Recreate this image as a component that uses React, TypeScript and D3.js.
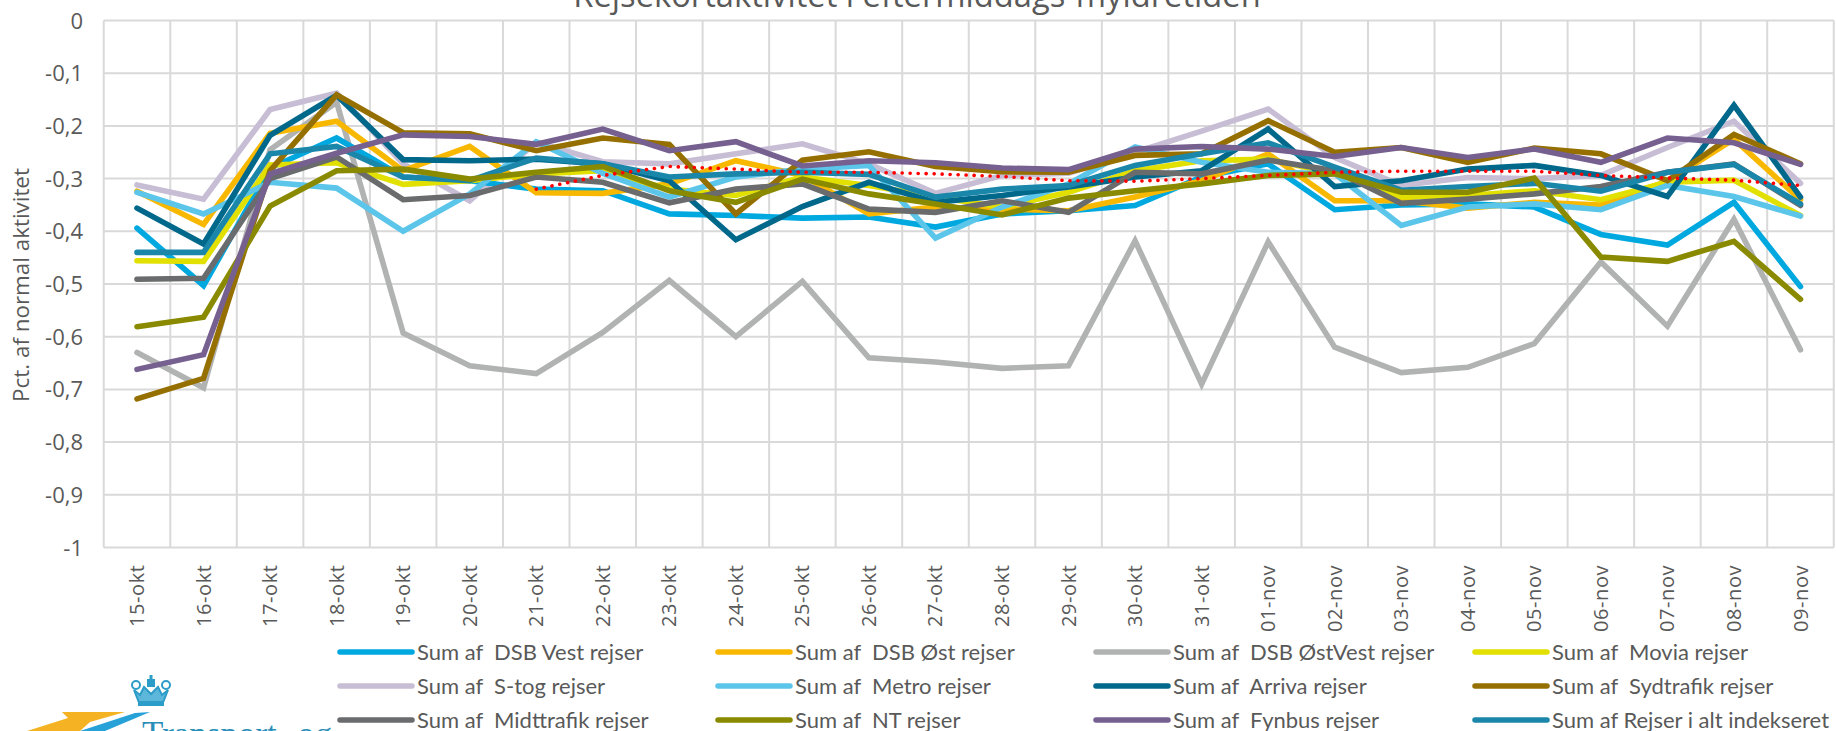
import React from "react";
import * as d3 from "d3";

const title = "Rejsekortaktivitet i eftermiddags-myldretiden";
const yLabel = "Pct. af normal aktivitet";
const dates = ["15-okt","16-okt","17-okt","18-okt","19-okt","20-okt","21-okt","22-okt","23-okt","24-okt","25-okt","26-okt","27-okt","28-okt","29-okt","30-okt","31-okt","01-nov","02-nov","03-nov","04-nov","05-nov","06-nov","07-nov","08-nov","09-nov"];
const yTicks = [0,-0.1,-0.2,-0.3,-0.4,-0.5,-0.6,-0.7,-0.8,-0.9,-1];

const dsbVest = [-0.394,-0.503,-0.28,-0.223,-0.297,-0.304,-0.32,-0.323,-0.367,-0.37,-0.375,-0.373,-0.392,-0.367,-0.361,-0.351,-0.297,-0.272,-0.359,-0.35,-0.348,-0.354,-0.406,-0.426,-0.345,-0.505];
const dsbOst = [-0.324,-0.387,-0.214,-0.191,-0.285,-0.239,-0.327,-0.328,-0.31,-0.266,-0.294,-0.367,-0.354,-0.358,-0.361,-0.335,-0.304,-0.253,-0.342,-0.342,-0.356,-0.345,-0.35,-0.305,-0.225,-0.34];
const dsbOstVest = [-0.63,-0.697,-0.245,-0.155,-0.593,-0.655,-0.67,-0.592,-0.493,-0.6,-0.495,-0.64,-0.648,-0.66,-0.655,-0.418,-0.69,-0.42,-0.62,-0.668,-0.658,-0.613,-0.458,-0.58,-0.377,-0.625];
const movia = [-0.456,-0.457,-0.274,-0.27,-0.311,-0.304,-0.291,-0.285,-0.32,-0.332,-0.297,-0.313,-0.335,-0.354,-0.326,-0.285,-0.266,-0.263,-0.291,-0.335,-0.332,-0.323,-0.34,-0.307,-0.303,-0.37];
const sTog = [-0.312,-0.339,-0.169,-0.138,-0.272,-0.342,-0.231,-0.268,-0.272,-0.253,-0.234,-0.272,-0.328,-0.294,-0.29,-0.25,-0.21,-0.168,-0.26,-0.313,-0.298,-0.3,-0.294,-0.241,-0.191,-0.309];
const metro = [-0.326,-0.367,-0.307,-0.318,-0.4,-0.329,-0.23,-0.29,-0.335,-0.297,-0.282,-0.275,-0.413,-0.354,-0.31,-0.24,-0.269,-0.288,-0.291,-0.389,-0.354,-0.348,-0.359,-0.313,-0.334,-0.371];
const arriva = [-0.356,-0.424,-0.218,-0.142,-0.264,-0.266,-0.263,-0.272,-0.304,-0.416,-0.353,-0.307,-0.345,-0.332,-0.316,-0.297,-0.285,-0.206,-0.315,-0.304,-0.282,-0.275,-0.294,-0.334,-0.161,-0.335];
const sydtrafik = [-0.718,-0.679,-0.285,-0.141,-0.213,-0.215,-0.247,-0.223,-0.235,-0.367,-0.265,-0.249,-0.277,-0.287,-0.288,-0.256,-0.253,-0.19,-0.25,-0.241,-0.269,-0.242,-0.253,-0.304,-0.216,-0.272];
const midttrafik = [-0.491,-0.489,-0.3,-0.259,-0.34,-0.332,-0.297,-0.307,-0.346,-0.32,-0.31,-0.358,-0.364,-0.342,-0.364,-0.288,-0.291,-0.265,-0.285,-0.347,-0.339,-0.329,-0.315,-0.288,-0.272,-0.351];
const nt = [-0.581,-0.563,-0.352,-0.285,-0.282,-0.301,-0.288,-0.277,-0.323,-0.345,-0.301,-0.329,-0.348,-0.369,-0.337,-0.323,-0.31,-0.294,-0.291,-0.326,-0.326,-0.299,-0.449,-0.457,-0.419,-0.529];
const fynbus = [-0.662,-0.634,-0.291,-0.252,-0.217,-0.22,-0.235,-0.206,-0.247,-0.23,-0.276,-0.266,-0.27,-0.28,-0.283,-0.244,-0.239,-0.244,-0.258,-0.241,-0.26,-0.244,-0.269,-0.223,-0.232,-0.273];
const rejserIAlt = [-0.44,-0.44,-0.253,-0.239,-0.297,-0.304,-0.261,-0.272,-0.297,-0.291,-0.288,-0.292,-0.335,-0.32,-0.313,-0.275,-0.253,-0.232,-0.278,-0.322,-0.315,-0.309,-0.324,-0.288,-0.273,-0.348];
const trendDates = dates.slice(6);
const trend = [-0.32,-0.294,-0.277,-0.282,-0.288,-0.288,-0.291,-0.296,-0.304,-0.305,-0.3,-0.294,-0.288,-0.286,-0.286,-0.286,-0.294,-0.299,-0.303,-0.313];

const seriesNames = ["Sum af  DSB Vest rejser","Sum af  DSB Øst rejser","Sum af  DSB ØstVest rejser","Sum af  Movia rejser","Sum af  S-tog rejser","Sum af  Metro rejser","Sum af  Arriva rejser","Sum af  Sydtrafik rejser","Sum af  Midttrafik rejser","Sum af  NT rejser","Sum af  Fynbus rejser","Sum af Rejser i alt indekseret"];
const seriesValues = [dsbVest,dsbOst,dsbOstVest,movia,sTog,metro,arriva,sydtrafik,midttrafik,nt,fynbus,rejserIAlt];
const seriesColors = ["#00a8e0","#f9b800","#b1b3b3","#e1e000","#c7bdd4","#5bc5ea","#00688b","#957000","#696b6c","#8a8a00","#76608f","#1a87aa"];
const drawOrder = [2,4,0,1,3,5,6,7,8,11,9,10];

const W = 1836, H = 731;
const FONT = "'Open Sans', sans-serif";
const INK = "#595959";
const legendCols = [340, 718, 1096, 1475];
const legendRows = [652, 686, 720];

export default function App() {
  const x = d3.scalePoint<string>().domain(dates).range([137, 1800.5]);
  const y = d3.scaleLinear().domain([-1, 0]).range([547.5, 20.5]);
  const step = x.step();
  const gridX = d3.range(dates.length + 1).map((i) => 137 - step / 2 + i * step);
  const line = d3.line<number>().x((_, i) => x(dates[i]) as number).y((v) => y(v));
  const trendLine = d3.line<number>().x((_, i) => x(trendDates[i]) as number).y((v) => y(v));
  return (
    <svg width={W} height={H} style={{ position: "absolute", left: 0, top: 0, background: "#fff" }} fontFamily={FONT}>
      <text x={917} y={7} textAnchor="middle" fontSize={32.7} fill={INK}>{title}</text>
      <g stroke="#d9d9d9" strokeWidth={2}>
        {yTicks.map((t) => <line key={t} x1={gridX[0]} x2={gridX[26]} y1={y(t)} y2={y(t)} />)}
        {gridX.map((g, i) => <line key={i} x1={g} x2={g} y1={y(0)} y2={y(-1)} />)}
      </g>
      {yTicks.map((t) => (
        <text key={t} x={83} y={y(t) + 8} textAnchor="end" fontSize={22} fill={INK}>
          {String(t).replace(".", ",")}
        </text>
      ))}
      <text transform="translate(29,285) rotate(-90)" textAnchor="middle" fontSize={22.4} fill={INK}>{yLabel}</text>
      {dates.map((d) => (
        <text key={d} transform={`translate(${(x(d) as number) + 7},${d.endsWith("nov") ? 632 : 627}) rotate(-90)`} fontSize={20} letterSpacing={0.6} fill={INK}>{d}</text>
      ))}
      <g fill="none" strokeLinejoin="miter" strokeLinecap="round" strokeWidth={5.6}>
        {drawOrder.map((i) => <path key={i} d={line(seriesValues[i]) ?? ""} stroke={seriesColors[i]} />)}
        <path d={trendLine(trend) ?? ""} stroke="#ff0000" strokeWidth={3.6} strokeDasharray="0.1 7.9" />
      </g>
      {seriesNames.map((n, i) => {
        const cx = legendCols[i % 4], cy = legendRows[Math.floor(i / 4)];
        return (
          <g key={n}>
            <line x1={cx} x2={cx + 72} y1={cy} y2={cy} stroke={seriesColors[i]} strokeWidth={5.5} strokeLinecap="round" />
            <text x={cx + 77} y={cy + 8} fontSize={22} fontFamily="Lato, sans-serif" fill={INK} xmlSpace="preserve">{n}</text>
          </g>
        );
      })}
      <g>
        <path d="M134 690 l6 5 l4 -8 l7 7 l7 -7 l4 8 l6 -5 l-6 15 h-22 z" fill="#5db7db" stroke="#2c9cc8" strokeWidth={2} />
        <circle cx={136} cy={685} r={4} fill="none" stroke="#2c9cc8" strokeWidth={2} />
        <circle cx={166} cy={685} r={4} fill="none" stroke="#2c9cc8" strokeWidth={2} />
        <rect x={147} y={679} width={8} height={8} fill="#2c9cc8" />
        <rect x={149.5} y={675} width={3} height={5} fill="#2c9cc8" />
        <rect x={138} y={701} width={26} height={5} fill="#2c9cc8" />
        <path d="M27 731 L68 718 L62 712 L125 712 L90 722 L80 731 Z" fill="#f5b324" />
        <path d="M80 731 L135 713 L150 712 L105 731 Z" fill="#27a2d8" />
        <text x={142} y={746} fontSize={35} fill="#2a8fb8" fontFamily="'Liberation Serif', serif">Transport- og</text>
      </g>
    </svg>
  );
}
